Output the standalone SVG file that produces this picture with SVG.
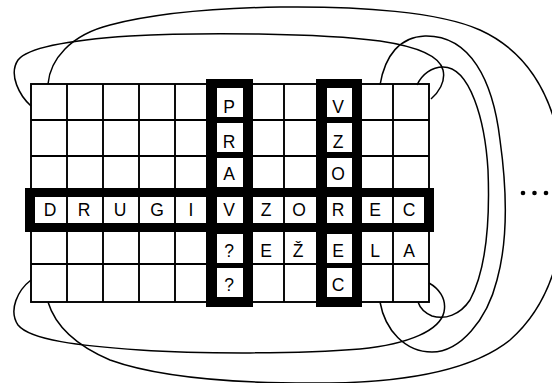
<svg xmlns="http://www.w3.org/2000/svg" width="552" height="383" viewBox="0 0 552 383">
<style>
.bg{fill:#fff}
.grid line,.grid rect{stroke:#000;stroke-width:1.9;fill:none}
.blk{fill:#000}
.wht{fill:#fff}
.t{font-family:"Liberation Sans",Arial,sans-serif;font-size:17.5px;fill:#000;text-anchor:middle}
.curves path{fill:none;stroke:#000;stroke-width:1.5}
</style>
<rect class="bg" x="0" y="0" width="552" height="383"/>
<g id="connectors" class="curves">
<path d="M31,106 C20,96 8,75 18,60 C28,47 70,40 130,36 C200,32 320,33 380,41 C420,47 440,57 443,70 C446,82 438,93 431,99"/>
<path d="M48,84 C50,60 70,35 110,25 C160,12 220,8 280,7 C360,6 440,12 480,30 C535,55 562,110 565,190 C565,250 550,305 510,340 C470,372 400,382 330,383 C240,384 160,378 110,360 C75,345 55,325 48,302"/>
<path d="M31,280 C18,290 8,310 18,325 C30,340 80,346 140,350 C200,354 300,354 360,349 C410,344 440,330 444,312 C447,298 438,288 429,283"/>
<path d="M380,85 C385,55 400,37 425,36 C470,35 493,80 500,140 C507,190 508,240 497,280 C487,320 460,352 432,352 C405,352 385,330 380,302"/>
<path d="M417,85 C422,74 432,67 443,67 C470,67 485,120 488,170 C490,220 486,270 470,300 C460,315 445,320 432,316 C425,313 420,308 418,302"/>
</g>
<g id="grid" class="grid">
<rect x="31" y="84" width="398" height="218"/>
<line x1="67" y1="84" x2="67" y2="302"/>
<line x1="103" y1="84" x2="103" y2="302"/>
<line x1="139" y1="84" x2="139" y2="302"/>
<line x1="175" y1="84" x2="175" y2="302"/>
<line x1="211" y1="84" x2="211" y2="302"/>
<line x1="247" y1="84" x2="247" y2="302"/>
<line x1="284" y1="84" x2="284" y2="302"/>
<line x1="319" y1="84" x2="319" y2="302"/>
<line x1="356" y1="84" x2="356" y2="302"/>
<line x1="393" y1="84" x2="393" y2="302"/>
<line x1="31" y1="120" x2="429" y2="120"/>
<line x1="31" y1="156" x2="429" y2="156"/>
<line x1="31" y1="192" x2="429" y2="192"/>
<line x1="31" y1="228" x2="429" y2="228"/>
<line x1="31" y1="264" x2="429" y2="264"/>
</g>
<g id="row-drugi-vzorec">
<rect class="blk" x="25" y="188" width="409" height="44"/>
<rect class="wht" x="35" y="197" width="389" height="26"/>
<g class="grid">
<line x1="67" y1="197" x2="67" y2="223"/>
<line x1="103" y1="197" x2="103" y2="223"/>
<line x1="139" y1="197" x2="139" y2="223"/>
<line x1="175" y1="197" x2="175" y2="223"/>
<line x1="284" y1="197" x2="284" y2="223"/>
<line x1="393" y1="197" x2="393" y2="223"/>
</g>
</g>
<g id="col-pravila">
<rect class="blk" x="206" y="79" width="47" height="228"/>
<rect class="wht" x="217" y="88" width="26" height="29"/>
<rect class="wht" x="217" y="123" width="26" height="29"/>
<rect class="wht" x="217" y="158" width="26" height="29"/>
<rect class="wht" x="217" y="197" width="26" height="26"/>
<rect class="wht" x="217" y="234" width="26" height="29"/>
<rect class="wht" x="217" y="268" width="26" height="29"/>
</g>
<g id="col-vzorec">
<rect class="blk" x="316" y="79" width="46" height="228"/>
<rect class="wht" x="327" y="88" width="25" height="29"/>
<rect class="wht" x="327" y="123" width="25" height="29"/>
<rect class="wht" x="327" y="158" width="25" height="29"/>
<rect class="wht" x="327" y="197" width="25" height="26"/>
<rect class="wht" x="327" y="234" width="25" height="29"/>
<rect class="wht" x="327" y="268" width="25" height="29"/>
</g>
<g id="letters">
<text class="t" x="229" y="113">P</text>
<text class="t" x="229" y="148">R</text>
<text class="t" x="229" y="180">A</text>
<text class="t" x="338" y="113">V</text>
<text class="t" x="338" y="148">Z</text>
<text class="t" x="338" y="180">O</text>
<text class="t" x="50" y="216">D</text>
<text class="t" x="84" y="216">R</text>
<text class="t" x="120" y="216">U</text>
<text class="t" x="157" y="216">G</text>
<text class="t" x="191" y="216">I</text>
<text class="t" x="229" y="216">V</text>
<text class="t" x="266" y="216">Z</text>
<text class="t" x="299" y="216">O</text>
<text class="t" x="338" y="216">R</text>
<text class="t" x="375" y="216">E</text>
<text class="t" x="409" y="216">C</text>
<text class="t" x="229" y="257">?</text>
<text class="t" x="266" y="257">E</text>
<text class="t" x="298" y="257">Ž</text>
<text class="t" x="338" y="257">E</text>
<text class="t" x="375" y="257">L</text>
<text class="t" x="409" y="257">A</text>
<text class="t" x="229" y="291">?</text>
<text class="t" x="338" y="291">C</text>
</g>
<g id="ellipsis">
<circle cx="523" cy="193" r="2.3"/>
<circle cx="534.5" cy="193" r="2.3"/>
<circle cx="546" cy="193" r="2.3"/>
</g>
</svg>
